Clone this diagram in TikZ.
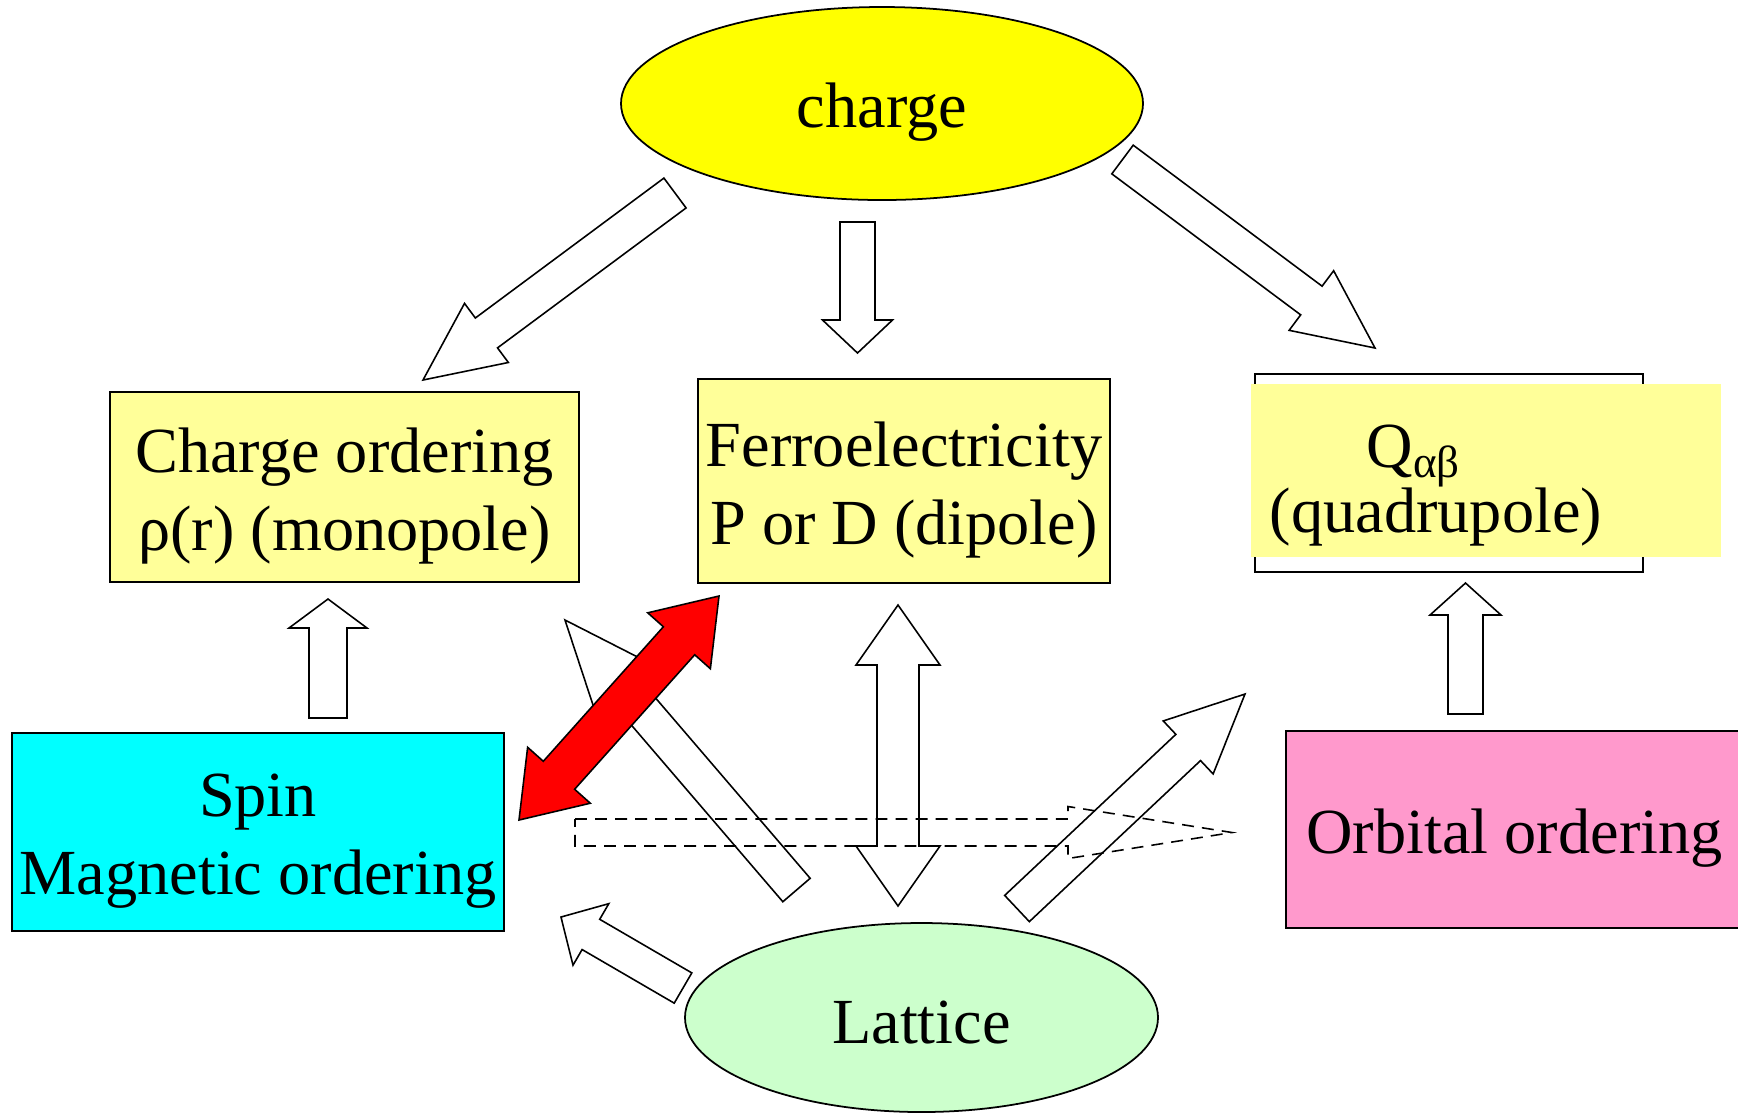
\documentclass[tikz,border=0pt]{standalone}
\usepackage{fontspec}
\setmainfont{Liberation Serif}
\usetikzlibrary{shapes.geometric,calc}

\definecolor{chargeyellow}{HTML}{FFFF00}
\definecolor{boxyellow}{HTML}{FFFF99}
\definecolor{spincyan}{HTML}{00FFFF}
\definecolor{orbpink}{HTML}{FF99CC}
\definecolor{latgreen}{HTML}{CCFFCC}

% pushes the text of a node a little down
\newcommand\txtdrop[1][0.62cm]{\rule{0pt}{#1}}

% block arrow: [style]{tail}{tip}{half shaft}{half head}{head length}
\newcommand\blockarrow[6][]{%
  \coordinate (neck) at ($(#3)!#6!(#2)$);
  \draw[#1] ($(#2)!#4!90:(#3)$) -- ($(neck)!#4!90:(#3)$) -- ($(neck)!#5!90:(#3)$) -- (#3)
    -- ($(neck)!#5!-90:(#3)$) -- ($(neck)!#4!-90:(#3)$) -- ($(#2)!#4!-90:(#3)$) -- cycle;
}

% double block arrow: [style]{tip a}{tip b}{half shaft}{half head}{head length}
\newcommand\dblarrow[6][]{%
  \coordinate (necka) at ($(#2)!#6!(#3)$);
  \coordinate (neckb) at ($(#3)!#6!(#2)$);
  \draw[#1] (#2) -- ($(necka)!#5!90:(#3)$) -- ($(necka)!#4!90:(#3)$) -- ($(neckb)!#4!90:(#3)$)
    -- ($(neckb)!#5!90:(#3)$) -- (#3) -- ($(neckb)!#5!-90:(#3)$) -- ($(neckb)!#4!-90:(#3)$)
    -- ($(necka)!#4!-90:(#3)$) -- ($(necka)!#5!-90:(#3)$) -- cycle;
}

\begin{document}
\begin{tikzpicture}[
    font=\fontsize{18.3}{22.2}\selectfont,
    box/.style={draw, line width=0.5pt, rectangle, inner sep=0pt, align=center},
    blob/.style={draw, line width=0.5pt, ellipse, inner sep=0pt},
    hollow/.style={draw, fill=white, line width=0.45pt},
    hot/.style={draw, fill=red, line width=0.45pt},
    ghost/.style={draw, line width=0.45pt, dash pattern=on 3.4pt off 2.3pt}
]
    % 1738 x 1113 px, 100 px = 1 cm
    \clip (0, 0) rectangle (17.38, -11.13);

    % ellipses
    \node[blob, fill=chargeyellow, minimum width=5.22cm, minimum height=1.93cm] (charge) at (8.82, -1.035) {\txtdrop charge};
    \node[blob, fill=latgreen, minimum width=4.73cm, minimum height=1.89cm] (lattice) at (9.215, -10.175) {\txtdrop[0.52cm]Lattice};

    % boxes
    \node[box, fill=boxyellow, minimum width=4.69cm, minimum height=1.90cm] (cho) at (3.445, -4.87) {\txtdrop Charge ordering\\ρ(r) (monopole)};
    \node[box, fill=boxyellow, minimum width=4.12cm, minimum height=2.04cm] (fer) at (9.04, -4.81) {\txtdrop Ferroelectricity\\P or D (dipole)};
    \node[box, fill=spincyan, minimum width=4.92cm, minimum height=1.98cm] (spin) at (2.58, -8.32) {\txtdrop[0.61cm]Spin\\Magnetic ordering};
    \node[box, fill=orbpink, minimum width=4.57cm, minimum height=1.97cm] (orb) at (15.145, -8.295) {\txtdrop[0.61cm]Orbital ordering};

    % quadrupole: outline, then a shifted yellow fill over it
    \node[box, minimum width=3.88cm, minimum height=1.98cm] (quad) at (14.49, -4.73) {};
    \fill[boxyellow] (12.51, -3.84) rectangle (17.21, -5.57);
    \node[align=center, inner sep=0pt] (quadtxt) at (14.36, -4.855) {Q\textsubscript{αβ}\hspace*{0.44cm}\\[-3.5pt](quadrupole)};

    % arrow ends
    \coordinate (chg-cho-a) at (6.75, -1.93);
    \coordinate (chg-cho-b) at (4.23, -3.80);
    \coordinate (chg-fer-a) at (8.575, -2.22);
    \coordinate (chg-fer-b) at (8.575, -3.53);
    \coordinate (chg-quad-a) at (11.225, -1.595);
    \coordinate (chg-quad-b) at (13.75, -3.48);
    \coordinate (spin-cho-a) at (3.28, -7.18);
    \coordinate (spin-cho-b) at (3.28, -5.99);
    \coordinate (orb-quad-a) at (14.655, -7.14);
    \coordinate (orb-quad-b) at (14.655, -5.83);
    \coordinate (lat-spin-a) at (6.83, -9.88);
    \coordinate (lat-spin-b) at (5.61, -9.17);
    \coordinate (lat-cho-a) at (7.965, -8.90);
    \coordinate (lat-cho-b) at (5.65, -6.20);
    \coordinate (lat-orb-a) at (10.17, -9.085);
    \coordinate (lat-orb-b) at (12.45, -6.94);
    \coordinate (lat-fer-a) at (8.98, -9.06);
    \coordinate (lat-fer-b) at (8.98, -6.05);
    \coordinate (spin-fer-a) at (5.19, -8.20);
    \coordinate (spin-fer-b) at (7.19, -5.96);
    \coordinate (spin-orb-a) at (5.75, -8.325);
    \coordinate (spin-orb-b) at (12.32, -8.325);

    % charge -> the three orderings
    \blockarrow[hollow]{chg-cho-a}{chg-cho-b}{0.186cm}{0.368cm}{0.79cm}
    \blockarrow[hollow]{chg-fer-a}{chg-fer-b}{0.175cm}{0.35cm}{0.33cm}
    \blockarrow[hollow]{chg-quad-a}{chg-quad-b}{0.179cm}{0.372cm}{0.794cm}

    % spin and orbital upwards
    \blockarrow[hollow]{spin-cho-a}{spin-cho-b}{0.19cm}{0.39cm}{0.29cm}
    \blockarrow[hollow]{orb-quad-a}{orb-quad-b}{0.175cm}{0.355cm}{0.32cm}

    % lattice
    \blockarrow[hollow]{lat-spin-a}{lat-spin-b}{0.175cm}{0.356cm}{0.346cm}
    \blockarrow[hollow]{lat-cho-a}{lat-cho-b}{0.18cm}{0.35cm}{0.85cm}
    \blockarrow[hollow]{lat-orb-a}{lat-orb-b}{0.18cm}{0.364cm}{0.78cm}
    \dblarrow[hollow]{lat-fer-a}{lat-fer-b}{0.21cm}{0.42cm}{0.60cm}

    % spin <-> ferroelectricity
    \dblarrow[hot]{spin-fer-a}{spin-fer-b}{0.21cm}{0.42cm}{0.60cm}

    % spin -> orbital (dashed)
    \blockarrow[ghost]{spin-orb-a}{spin-orb-b}{0.135cm}{0.26cm}{1.64cm}
\end{tikzpicture}
\end{document}
